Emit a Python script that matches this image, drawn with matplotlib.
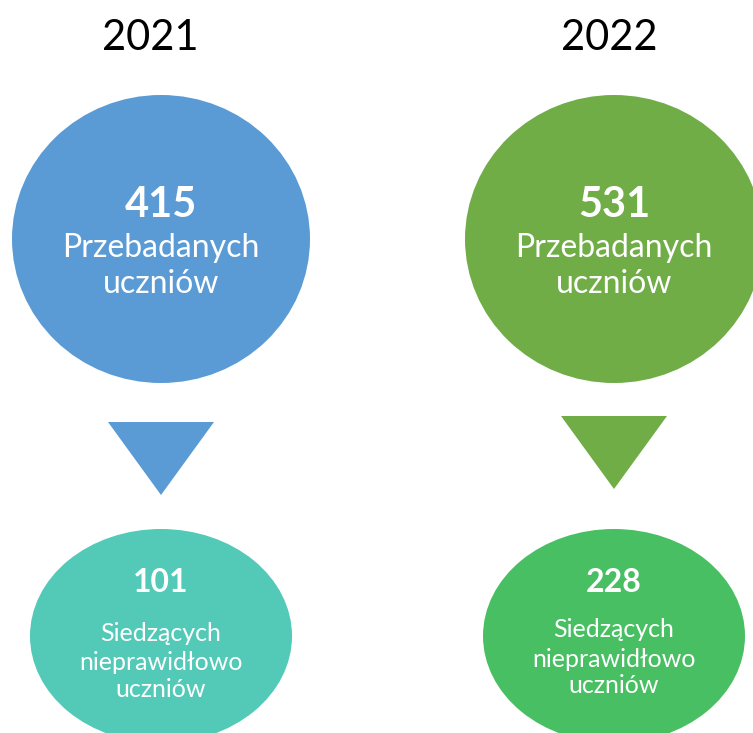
import matplotlib
matplotlib.use('Agg')
import matplotlib.pyplot as plt
from matplotlib.patches import Ellipse, Polygon

plt.rcParams['font.family'] = ['Lato', 'DejaVu Sans']

# Data
years = ['2021', '2022']
surveyed = [415, 531]
sitting_wrong = [101, 228]
surveyed_lines = ['Przebadanych', 'uczniów']
wrong_lines = ['Siedzących', 'nieprawidłowo', 'uczniów']

big_colors = ['#5B9BD5', '#70AD47']
small_colors = ['#53C9B7', '#49BF63']

W, H = 753, 733
fig = plt.figure(figsize=(W / 100, H / 100), dpi=100)
ax = fig.add_axes([0, 0, 1, 1])
ax.set_xlim(0, W)
ax.set_ylim(H, 0)
ax.axis('off')

centers = [161, 614]
year_x = [150, 609]
tri_top = [422, 416]
tri_tip = [495, 489]
small_base = [[641, 670, 697], [637, 667, 693]]

for i, year in enumerate(years):
    cx = centers[i]

    # year header
    ax.text(year_x[i], 50, year, ha='center', va='baseline', fontsize=30, color='black')

    # big circle with totals
    ax.add_patch(Ellipse((cx, 239), 298, 288, color=big_colors[i], lw=0))
    ax.text(cx, 217, str(surveyed[i]), ha='center', va='baseline',
            fontsize=30, fontweight='bold', color='white')
    for line, y in zip(surveyed_lines, [257, 293]):
        ax.text(cx, y, line, ha='center', va='baseline', fontsize=23, color='white')

    # arrow triangle
    ax.add_patch(Polygon([[cx - 53, tri_top[i]], [cx + 53, tri_top[i]], [cx, tri_tip[i]]],
                         closed=True, color=big_colors[i], lw=0))

    # small ellipse with wrong posture counts
    ax.add_patch(Ellipse((cx, 636), 262, 214, color=small_colors[i], lw=0))
    ax.text(cx, 592, str(sitting_wrong[i]), ha='center', va='baseline',
            fontsize=23, fontweight='bold', color='white')
    for line, y in zip(wrong_lines, small_base[i]):
        ax.text(cx, y, line, ha='center', va='baseline', fontsize=18, color='white')

fig.savefig('out.png', dpi=100)
